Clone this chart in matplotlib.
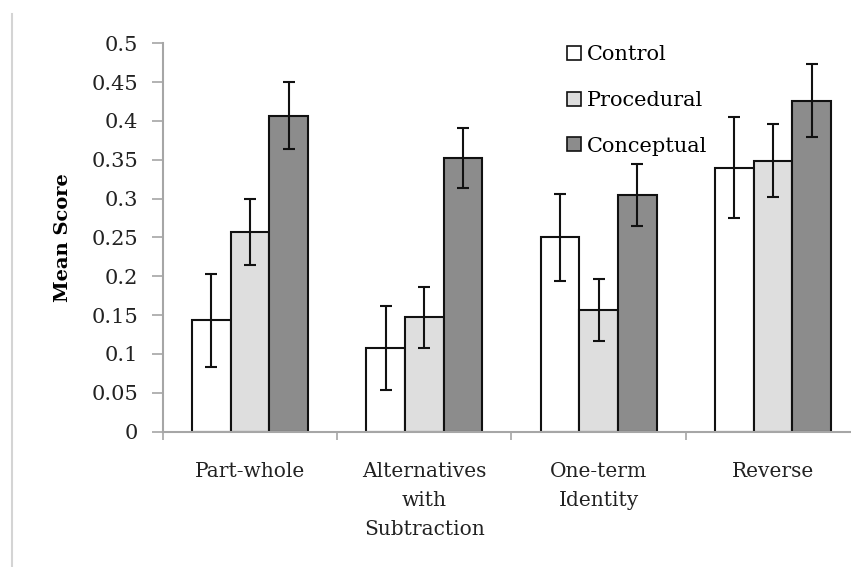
import numpy as np
import matplotlib
matplotlib.use('Agg')
import matplotlib.pyplot as plt
from matplotlib.lines import Line2D

# values
categories = ['Part-whole', 'Alternatives\nwith\nSubtraction', 'One-term\nIdentity', 'Reverse']
groups = ['Control', 'Procedural', 'Conceptual']
control = [0.143, 0.107, 0.250, 0.340]
control_err = [0.060, 0.054, 0.056, 0.065]
procedural = [0.257, 0.147, 0.156, 0.349]
procedural_err = [0.043, 0.039, 0.040, 0.047]
conceptual = [0.407, 0.352, 0.305, 0.426]
conceptual_err = [0.043, 0.039, 0.040, 0.047]
yticks = [0, 0.05, 0.1, 0.15, 0.2, 0.25, 0.3, 0.35, 0.4, 0.45, 0.5]
ytick_labels = ['0', '0.05', '0.1', '0.15', '0.2', '0.25', '0.3', '0.35', '0.4', '0.45', '0.5']

colors = ['#ffffff', '#dedede', '#8c8c8c']
plt.rcParams['font.family'] = 'DejaVu Serif'

fig = plt.figure(figsize=(8.51, 5.67), dpi=100)
# axes runs past the right edge, as in the original crop
ax = fig.add_axes([163 / 851, 1 - 431.5 / 567, 697 / 851, 388.2 / 567])

x = np.arange(len(categories))
w = 0.222
series = [(control, control_err), (procedural, procedural_err), (conceptual, conceptual_err)]
for i, (vals, errs) in enumerate(series):
    ax.bar(x + (i - 1) * w, vals, w, color=colors[i], edgecolor='#111111',
           linewidth=1.5, label=groups[i], zorder=2)
    ax.errorbar(x + (i - 1) * w, vals, yerr=errs, fmt='none', ecolor='#111111',
                elinewidth=1.5, capsize=4, capthick=1.5, zorder=3)

ax.set_xlim(-0.5, len(categories) - 0.5)
ax.set_ylim(0, 0.5)
ax.set_yticks(yticks)
ax.set_yticklabels(ytick_labels, fontsize=15, color='#222222')

ax.set_xticks(x)
ax.set_xticklabels(categories, fontsize=14.5, color='#222222', linespacing=1.68)
ax.tick_params(axis='x', length=0, pad=22)
ax.set_xticks(np.arange(-0.5, len(categories) + 0.5, 1), minor=True)
ax.tick_params(axis='x', which='minor', length=6, width=1.2, color='#a6a6a6', direction='out')
ax.tick_params(axis='y', length=8, width=1.2, color='#a6a6a6', direction='out', pad=10)

for s in ['top', 'right']:
    ax.spines[s].set_visible(False)
for s in ['left', 'bottom']:
    ax.spines[s].set_color('#a6a6a6')
    ax.spines[s].set_linewidth(1.5)

ax.set_ylabel('Mean Score', fontsize=14, fontweight='bold')
ax.yaxis.set_label_coords(-0.13, 0.5)

leg = ax.legend(loc='upper left', bbox_to_anchor=(557 / 851, 1 - 35 / 567),
                bbox_transform=fig.transFigure, frameon=False, fontsize=15,
                handlelength=0.65, handleheight=0.65, handletextpad=0.3,
                labelspacing=1.28, borderpad=0)
for h in leg.legend_handles:
    h.set_linewidth(1.2)

# faint frame line on the left edge
fig.add_artist(Line2D([11.5 / 851, 11.5 / 851], [0, 1 - 14 / 567],
                      transform=fig.transFigure, color='#d4d4d4', linewidth=1.5))

fig.savefig('out.png', dpi=100)
